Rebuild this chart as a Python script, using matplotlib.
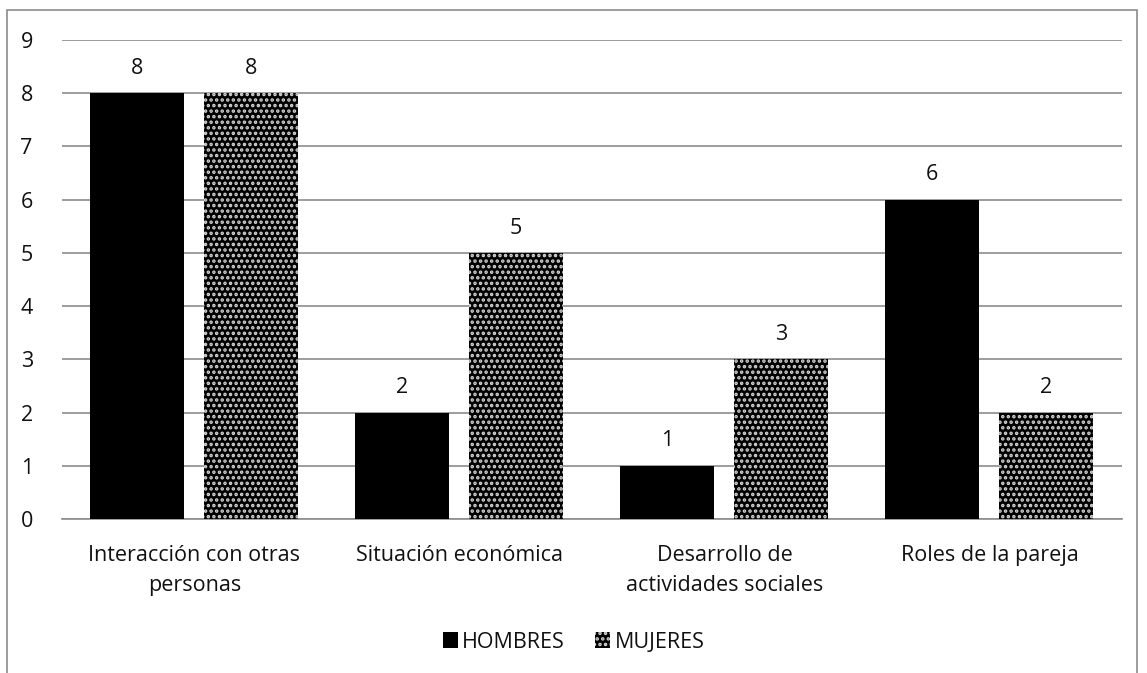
import numpy as np
import matplotlib.pyplot as plt
from matplotlib.patches import Rectangle

plt.rcParams['font.family'] = ['Open Sans', 'DejaVu Sans']
plt.rcParams['hatch.linewidth'] = 1.7

categorias = ['Interacción con otras\npersonas', 'Situación económica',
              'Desarrollo de\nactividades sociales', 'Roles de la pareja']
hombres = [8, 2, 1, 6]
mujeres = [8, 5, 3, 2]

fig = plt.figure(figsize=(11.47, 6.73), dpi=100)
ax = fig.add_axes([62 / 1147, 1 - 519 / 673, 1060 / 1147, 479 / 673])

# marco exterior del gráfico
fig.patches.append(Rectangle((7 / 1147, -0.1), 1130 / 1147, 1 - 10 / 673 + 0.1,
                             transform=fig.transFigure, fill=False,
                             edgecolor='#8c8c8c', linewidth=1.2))

x = np.arange(len(categorias))
ancho = 0.355
fs = 15.5
b1 = ax.bar(x - 0.217, hombres, ancho, color='black', label='HOMBRES', zorder=3)
b2 = ax.bar(x + 0.213, mujeres, ancho, facecolor='black', hatch='...',
            edgecolor='#d4d4d4', linewidth=0, label='MUJERES', zorder=3)

for barras in (b1, b2):
    for b in barras:
        ax.text(b.get_x() + b.get_width() / 2, b.get_height() + 0.27,
                f'{int(b.get_height())}', ha='center', va='bottom', fontsize=fs,
                color='#111111')

ax.set_xlim(-0.5, 3.5)
ax.set_ylim(0, 9)
ax.set_yticks(range(10))
ax.yaxis.grid(True, color='#8c8c8c', linewidth=1.2, zorder=0)
ax.set_xticks(x)
ax.set_xticklabels(categorias, fontsize=fs, linespacing=1.55, color='#111111')
ax.tick_params(axis='y', length=0, labelsize=fs, pad=21, labelcolor='#111111')
ax.tick_params(axis='x', length=0, pad=19)
for s in ('top', 'right', 'left'):
    ax.spines[s].set_visible(False)
ax.spines['bottom'].set_color('#8c8c8c')
ax.spines['bottom'].set_linewidth(1.2)

fig.legend(handles=[b1, b2], loc='center', bbox_to_anchor=(0.5, 1 - 642 / 673),
           ncol=2, frameon=False, fontsize=fs, handlelength=0.7, handleheight=0.7,
           handletextpad=0.2, columnspacing=1.4, labelcolor='#111111')

fig.savefig('out.png', dpi=100)
